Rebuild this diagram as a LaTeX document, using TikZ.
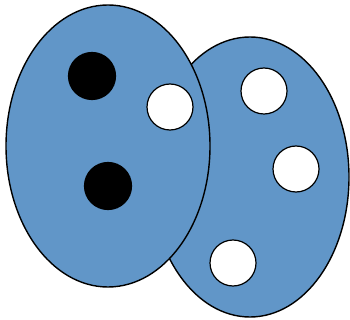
\documentclass[tikz,border=0pt]{standalone}
\usepackage{tikz}
\definecolor{setblue}{RGB}{97,150,200}

\begin{document}
\begin{tikzpicture}[x=1pt, y=-1pt,
        blob/.style={draw=black, fill=setblue, line width=1.4pt},
        full/.style={draw=black, fill=black, line width=1.2pt},
        empty/.style={draw=black, fill=white, line width=1.2pt},
    ]
    \useasboundingbox (0,0) rectangle (350,320);
    % right set behind, left set in front
    \draw[blob] (250,177) ellipse [x radius=99, y radius=140];
    \draw[blob] (108,146) ellipse [x radius=102, y radius=141];
    \draw[full]  (92,76)   circle [radius=23.5];
    \draw[full]  (108,186) circle [radius=23.5];
    \draw[empty] (170,107) circle [radius=23];
    \draw[empty] (264,91)  circle [radius=23];
    \draw[empty] (296,169) circle [radius=23];
    \draw[empty] (233,263) circle [radius=23];
\end{tikzpicture}
\end{document}
